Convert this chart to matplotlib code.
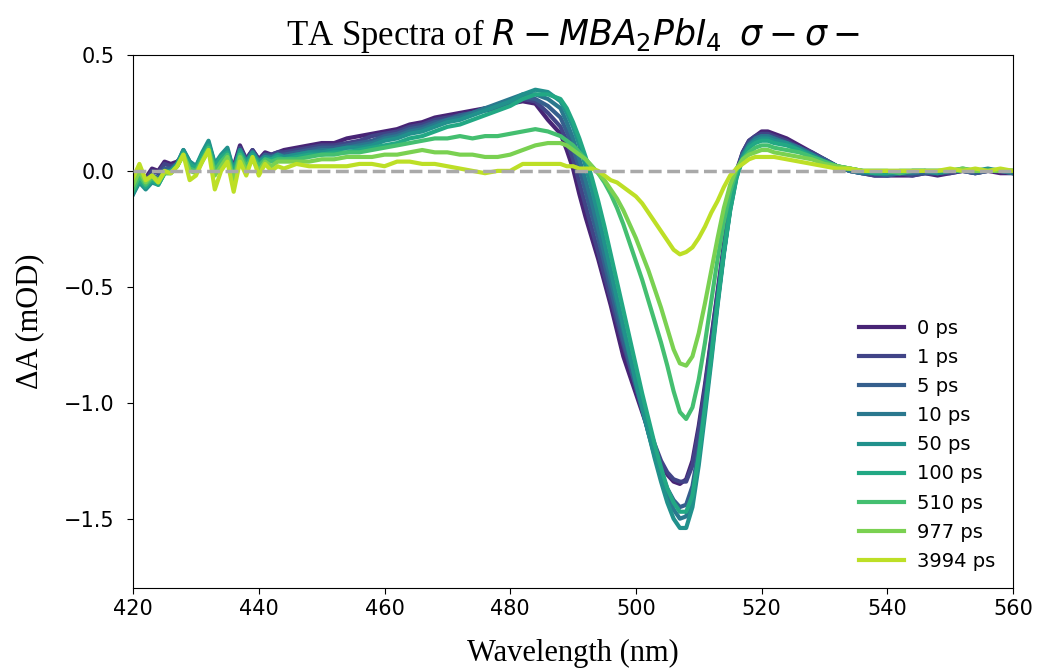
import numpy as np
import matplotlib
matplotlib.use("Agg")
import matplotlib.pyplot as plt

plt.rcParams['font.serif'] = ['Liberation Serif', 'DejaVu Serif']

# wavelength grid (nm): 1 nm in the noisy blue edge and around the bleach, 2 nm elsewhere
wl = list(range(420, 445)) + list(range(446, 488, 2)) + list(range(488, 523)) + list(range(524, 561, 2))

delays = ['0 ps', '1 ps', '5 ps', '10 ps', '50 ps', '100 ps', '510 ps', '977 ps', '3994 ps']

# dA (mOD), one list per delay
s0 = [-0.06, -0.02, -0.03, 0.01, 0.00, 0.04, 0.03, 0.04, 0.07, 0.03, 0.02, 0.05, 0.09, 0.02, 0.05, 0.07, 0.02, 0.11, 0.05, 0.09, 0.05, 0.08, 0.07, 0.08, 0.09,
      0.10, 0.11, 0.12, 0.12, 0.14, 0.15, 0.16, 0.17, 0.18, 0.20, 0.21, 0.23, 0.24, 0.25, 0.26, 0.27, 0.27, 0.29, 0.30, 0.29, 0.22,
      0.16, 0.09, 0.01, -0.10, -0.20, -0.29, -0.38, -0.48, -0.58, -0.69, -0.80, -0.88, -0.96, -1.04, -1.12, -1.20, -1.26, -1.31, -1.34, -1.35,
      -1.33, -1.25, -1.10, -0.92, -0.72, -0.52, -0.32, -0.14, 0.00, 0.08, 0.13, 0.15, 0.17, 0.17, 0.16,
      0.14, 0.11, 0.08, 0.05, 0.02, 0.00, -0.01, -0.02, -0.02, -0.02, -0.02, -0.01, -0.02, -0.01, 0.00, -0.01, 0.00, -0.01, -0.01]
s1 = [-0.07, -0.02, -0.04, 0.00, -0.01, 0.03, 0.02, 0.03, 0.07, 0.02, 0.01, 0.05, 0.09, 0.01, 0.04, 0.07, 0.01, 0.10, 0.05, 0.09, 0.05, 0.07, 0.07, 0.08, 0.08,
      0.09, 0.10, 0.11, 0.11, 0.12, 0.13, 0.15, 0.16, 0.17, 0.19, 0.20, 0.22, 0.23, 0.24, 0.25, 0.26, 0.27, 0.29, 0.31, 0.30, 0.25,
      0.19, 0.13, 0.05, -0.05, -0.15, -0.25, -0.35, -0.45, -0.55, -0.65, -0.75, -0.84, -0.93, -1.02, -1.10, -1.18, -1.25, -1.30, -1.33, -1.34,
      -1.34, -1.27, -1.12, -0.94, -0.73, -0.53, -0.33, -0.15, -0.01, 0.08, 0.13, 0.15, 0.16, 0.16, 0.15,
      0.13, 0.10, 0.08, 0.05, 0.02, 0.00, -0.01, -0.02, -0.02, -0.01, -0.02, -0.01, -0.01, -0.01, 0.00, -0.01, 0.00, 0.00, -0.01]
s5 = [-0.08, -0.03, -0.05, -0.02, -0.03, 0.01, 0.01, 0.03, 0.08, 0.03, 0.01, 0.06, 0.11, 0.02, 0.05, 0.08, 0.00, 0.09, 0.04, 0.08, 0.04, 0.07, 0.06, 0.07, 0.07,
      0.08, 0.09, 0.10, 0.10, 0.11, 0.12, 0.13, 0.15, 0.16, 0.18, 0.19, 0.21, 0.22, 0.24, 0.25, 0.27, 0.28, 0.30, 0.32, 0.31, 0.28,
      0.23, 0.17, 0.10, 0.01, -0.09, -0.19, -0.29, -0.40, -0.51, -0.62, -0.73, -0.83, -0.93, -1.03, -1.13, -1.22, -1.30, -1.37, -1.42, -1.45,
      -1.44, -1.36, -1.20, -1.00, -0.78, -0.56, -0.35, -0.16, -0.02, 0.07, 0.12, 0.14, 0.15, 0.15, 0.14,
      0.12, 0.10, 0.07, 0.05, 0.02, 0.00, -0.01, -0.01, -0.02, -0.01, -0.01, -0.01, -0.01, 0.00, 0.00, -0.01, 0.00, 0.00, -0.01]
s10 = [-0.10, -0.04, -0.07, -0.04, -0.05, 0.00, 0.00, 0.03, 0.09, 0.04, 0.02, 0.07, 0.12, 0.03, 0.06, 0.09, 0.00, 0.09, 0.04, 0.08, 0.04, 0.06, 0.06, 0.07, 0.06,
       0.07, 0.08, 0.09, 0.09, 0.10, 0.11, 0.12, 0.14, 0.15, 0.17, 0.18, 0.20, 0.22, 0.23, 0.25, 0.27, 0.29, 0.31, 0.33, 0.33, 0.31,
       0.27, 0.21, 0.14, 0.05, -0.04, -0.14, -0.25, -0.36, -0.47, -0.58, -0.69, -0.80, -0.91, -1.02, -1.13, -1.23, -1.32, -1.40, -1.46, -1.50,
       -1.49, -1.40, -1.23, -1.02, -0.79, -0.56, -0.35, -0.16, -0.02, 0.07, 0.11, 0.14, 0.15, 0.15, 0.14,
       0.12, 0.10, 0.07, 0.04, 0.02, 0.00, -0.01, -0.01, -0.01, -0.01, -0.01, 0.00, -0.01, 0.00, 0.00, 0.00, 0.00, 0.00, -0.01]
s50 = [-0.10, -0.05, -0.08, -0.05, -0.06, -0.01, 0.00, 0.03, 0.09, 0.04, 0.02, 0.08, 0.13, 0.03, 0.07, 0.10, 0.00, 0.09, 0.04, 0.08, 0.04, 0.06, 0.05, 0.07, 0.06,
       0.07, 0.08, 0.08, 0.09, 0.10, 0.10, 0.11, 0.13, 0.14, 0.16, 0.17, 0.19, 0.21, 0.22, 0.24, 0.26, 0.28, 0.30, 0.33, 0.35, 0.34,
       0.30, 0.25, 0.19, 0.11, 0.02, -0.08, -0.19, -0.31, -0.43, -0.55, -0.67, -0.79, -0.91, -1.02, -1.13, -1.24, -1.34, -1.43, -1.50, -1.54,
       -1.54, -1.45, -1.27, -1.05, -0.82, -0.58, -0.36, -0.17, -0.03, 0.06, 0.11, 0.13, 0.14, 0.14, 0.13,
       0.12, 0.09, 0.07, 0.04, 0.02, 0.01, 0.00, -0.01, -0.01, -0.01, 0.00, 0.00, -0.01, 0.00, 0.00, 0.00, 0.01, 0.00, 0.00]
s100 = [-0.09, -0.04, -0.07, -0.04, -0.06, -0.01, 0.00, 0.02, 0.08, 0.03, 0.01, 0.07, 0.11, 0.02, 0.06, 0.08, -0.01, 0.08, 0.03, 0.07, 0.03, 0.05, 0.05, 0.06, 0.05,
        0.06, 0.07, 0.07, 0.08, 0.08, 0.09, 0.10, 0.11, 0.12, 0.14, 0.15, 0.17, 0.19, 0.20, 0.22, 0.24, 0.26, 0.28, 0.31, 0.33, 0.33,
        0.31, 0.27, 0.21, 0.14, 0.06, -0.03, -0.13, -0.24, -0.36, -0.48, -0.60, -0.72, -0.84, -0.96, -1.07, -1.18, -1.28, -1.37, -1.43, -1.47,
        -1.47, -1.40, -1.23, -1.02, -0.80, -0.57, -0.35, -0.17, -0.03, 0.05, 0.10, 0.12, 0.13, 0.13, 0.12,
        0.11, 0.09, 0.06, 0.04, 0.02, 0.01, 0.00, -0.01, -0.01, 0.00, 0.00, 0.00, 0.00, 0.00, 0.01, 0.00, 0.00, 0.00, 0.00]
s510 = [-0.08, -0.02, -0.06, -0.03, -0.05, -0.01, -0.01, 0.02, 0.07, 0.01, 0.00, 0.05, 0.10, 0.00, 0.04, 0.07, -0.03, 0.07, 0.02, 0.06, 0.02, 0.05, 0.04, 0.05, 0.05,
        0.05, 0.06, 0.07, 0.07, 0.08, 0.08, 0.09, 0.10, 0.11, 0.12, 0.13, 0.14, 0.14, 0.15, 0.14, 0.15, 0.15, 0.16, 0.17, 0.18, 0.17,
        0.15, 0.13, 0.11, 0.08, 0.05, 0.02, -0.01, -0.05, -0.10, -0.16, -0.23, -0.31, -0.39, -0.47, -0.56, -0.65, -0.74, -0.84, -0.95, -1.04,
        -1.07, -1.02, -0.90, -0.74, -0.56, -0.38, -0.22, -0.09, 0.00, 0.05, 0.08, 0.10, 0.11, 0.11, 0.10,
        0.09, 0.08, 0.06, 0.04, 0.02, 0.01, 0.00, 0.00, 0.00, -0.01, 0.00, 0.00, 0.00, 0.00, 0.00, 0.00, 0.00, 0.00, 0.00]
s977 = [-0.06, 0.00, -0.05, -0.02, -0.04, -0.01, -0.01, 0.02, 0.07, 0.00, -0.01, 0.04, 0.09, -0.02, 0.02, 0.06, -0.05, 0.06, 0.00, 0.05, 0.00, 0.04, 0.02, 0.04, 0.04,
        0.04, 0.04, 0.05, 0.05, 0.06, 0.06, 0.06, 0.07, 0.07, 0.08, 0.09, 0.08, 0.08, 0.07, 0.07, 0.06, 0.06, 0.07, 0.09, 0.11, 0.12,
        0.12, 0.11, 0.09, 0.07, 0.05, 0.02, -0.01, -0.04, -0.08, -0.12, -0.17, -0.23, -0.29, -0.36, -0.43, -0.51, -0.59, -0.68, -0.77, -0.83,
        -0.84, -0.80, -0.70, -0.57, -0.43, -0.29, -0.16, -0.06, 0.01, 0.05, 0.07, 0.08, 0.09, 0.09, 0.08,
        0.07, 0.06, 0.05, 0.03, 0.02, 0.01, 0.00, 0.00, 0.00, 0.00, 0.00, 0.00, 0.00, 0.00, 0.01, 0.00, 0.00, 0.00, 0.00]
s3994 = [-0.03, 0.03, -0.04, -0.02, -0.05, 0.00, -0.01, 0.02, 0.07, -0.04, -0.02, 0.04, 0.09, -0.08, 0.00, 0.04, -0.09, 0.04, -0.02, 0.06, -0.02, 0.03, 0.00, 0.02, 0.01,
         0.03, 0.02, 0.02, 0.02, 0.02, 0.03, 0.03, 0.02, 0.04, 0.04, 0.03, 0.03, 0.02, 0.01, 0.00, -0.01, 0.00, 0.00, 0.03, 0.03, 0.03,
         0.03, 0.02, 0.02, 0.01, 0.01, 0.01, 0.00, -0.02, -0.04, -0.05, -0.07, -0.09, -0.11, -0.14, -0.18, -0.22, -0.26, -0.30, -0.34, -0.36,
         -0.35, -0.33, -0.29, -0.24, -0.18, -0.13, -0.07, -0.02, 0.01, 0.03, 0.05, 0.06, 0.06, 0.06, 0.06,
         0.05, 0.04, 0.03, 0.02, 0.01, 0.01, 0.00, 0.00, 0.00, 0.00, 0.00, 0.00, 0.00, 0.01, 0.00, 0.01, 0.00, 0.01, 0.00]

spectra = [s0, s1, s5, s10, s50, s100, s510, s977, s3994]
colors = plt.cm.viridis(np.linspace(0.1, 0.9, len(delays)))

fig, ax = plt.subplots(figsize=(10.4, 6.7), dpi=100)
fig.subplots_adjust(left=0.128, right=0.974, top=0.918, bottom=0.122)

for y, lab, c in zip(spectra, delays, colors):
    ax.plot(wl, y, color=c, lw=3, label=lab)
ax.axhline(0, color='darkgray', ls='--', lw=2.5, zorder=5)

ax.set_xlim(420, 560)
ax.set_ylim(-1.8, 0.5)
ax.set_xticks(np.arange(420, 561, 20))
ax.set_yticks([-1.5, -1.0, -0.5, 0.0, 0.5])
ax.tick_params(labelsize=15, length=4.5)
ax.tick_params(axis='y', pad=9)
ax.set_xlabel('Wavelength (nm)', family='serif', fontsize=22, labelpad=14)
ax.set_ylabel('ΔA (mOD)', family='serif', fontsize=22, labelpad=14)
ax.set_title(r'TA Spectra of $R-MBA_2PbI_4$  $\sigma-\sigma-$', family='serif', fontsize=25)
ax.legend(loc='lower right', frameon=False, fontsize=14, handlelength=2.3,
          handletextpad=0.7, labelspacing=0.52)

fig.savefig('out.png')
